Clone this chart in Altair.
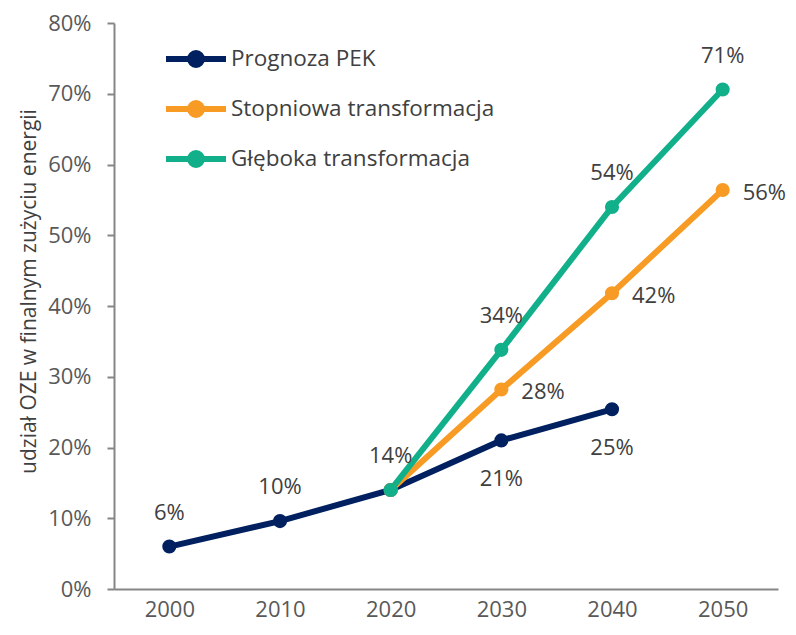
import altair as alt
import pandas as pd

years = ["2000", "2010", "2020", "2030", "2040", "2050"]
series_names = ["Prognoza PEK", "Stopniowa transformacja", "Głęboka transformacja"]
series_colors = ["#002060", "#F79B25", "#12B08A"]

pek = [0.060, 0.096, 0.140, 0.210, 0.254, None]
stopniowa = [None, None, 0.140, 0.282, 0.418, 0.564]
gleboka = [None, None, 0.140, 0.338, 0.540, 0.706]

# which side of the point each value label sits on ("" = no label)
side_pek = ["above", "above", "above", "below", "below", ""]
side_stopniowa = ["", "", "", "right", "right", "right"]
side_gleboka = ["", "", "", "above", "above", "above"]

rows = []
for k, (name, vals, sides) in enumerate(zip(
        series_names,
        [pek, stopniowa, gleboka],
        [side_pek, side_stopniowa, side_gleboka])):
    for i, (yr, v, s) in enumerate(zip(years, vals, sides)):
        if v is None:
            continue
        rows.append({"year": yr, "value": v, "series": name,
                     "side": s, "k": k, "idx": k * 10 + i})
df = pd.DataFrame(rows)

FONT = "Open Sans"
AXIS_GRAY = "#868686"

x_enc = alt.X("year:O", sort=years,
              scale=alt.Scale(domain=years),
              axis=alt.Axis(title=None, labelAngle=0, ticks=False,
                            labelPadding=10))
y_enc = alt.Y("value:Q",
              scale=alt.Scale(domain=[0, 0.8], nice=False),
              axis=alt.Axis(title="udział OZE w finalnym zużyciu energii",
                            format=".0%", values=[i / 10 for i in range(9)],
                            tickSize=7, labelPadding=16, titlePadding=8,
                            titleY=268, grid=False))

legend = alt.Legend(
    title=None, orient="none", legendX=49, legendY=21,
    symbolType="M-1,0H1M0.2,0A0.2,0.2,0,1,1,-0.2,0A0.2,0.2,0,1,1,0.2,0Z",
    symbolSize=3600, symbolStrokeWidth=6, symbolOpacity=1,
    labelFontSize=22.5, labelFont=FONT, labelColor="#404040", labelOffset=2,
    clipHeight=30, rowPadding=20, padding=0, labelLimit=400,
)
color_enc = alt.Color("series:N",
                      scale=alt.Scale(domain=series_names, range=series_colors),
                      legend=legend)

base = alt.Chart(df).encode(x=x_enc, y=y_enc)

lines = base.mark_line(strokeWidth=6).encode(
    color=color_enc, order=alt.Order("k:Q"))
points = base.mark_circle(size=200, opacity=1).encode(
    color=color_enc, order=alt.Order("idx:Q"))

text_style = dict(fontSize=22, font=FONT, color="#404040", baseline="middle")
t_above = base.transform_filter("datum.side == 'above'").mark_text(
    dy=-34, **text_style).encode(text=alt.Text("value:Q", format=".0%"))
t_below = base.transform_filter("datum.side == 'below'").mark_text(
    dy=39, **text_style).encode(text=alt.Text("value:Q", format=".0%"))
t_right = base.transform_filter("datum.side == 'right'").mark_text(
    dx=20, dy=3, align="left", **text_style).encode(
    text=alt.Text("value:Q", format=".0%"))

chart = alt.layer(lines, points, t_above, t_below, t_right).properties(
    width=664, height=566,
    autosize=alt.AutoSizeParams(type="none"),
    padding={"left": 106, "top": 15, "right": 10, "bottom": 34},
).configure_view(stroke=None).configure_axis(
    domainColor=AXIS_GRAY, domainWidth=2, tickColor=AXIS_GRAY, tickWidth=2,
    labelFont=FONT, labelFontSize=22, labelColor="#595959",
    titleFont=FONT, titleFontSize=21, titleColor="#404040",
    titleFontWeight="normal",
)

chart.save("out.html", embed_options={"renderer": "svg", "actions": False})
